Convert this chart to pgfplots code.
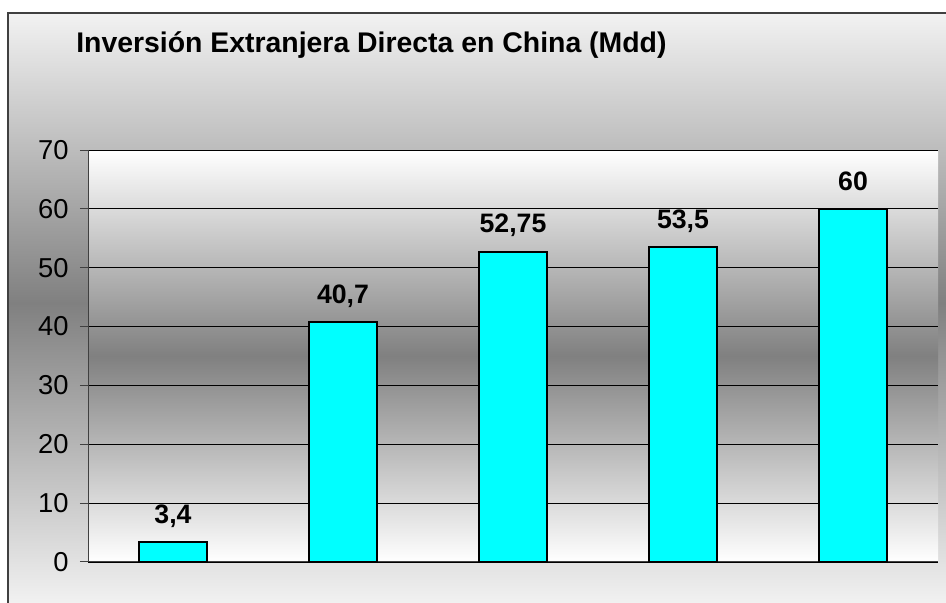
\documentclass[border=0pt]{standalone}
\usepackage{pgfplots}
\pgfplotsset{compat=1.18}
\usepackage{fontspec}
\setmainfont{Liberation Sans}
\definecolor{frame}{RGB}{64,64,64}
\definecolor{lite}{RGB}{242,242,242}
\definecolor{midgray}{RGB}{128,128,128}
\definecolor{barcyan}{RGB}{0,255,255}
\begin{document}
\begin{tikzpicture}[x=0.75pt,y=0.75pt]
\path[use as bounding box] (0,0) rectangle (946,603);
\begin{scope}
\clip (0,0) rectangle (946,603);
\shade[top color=lite, bottom color=midgray] (8,300) rectangle (960,590);
\shade[top color=midgray, bottom color=lite] (8,-2) rectangle (960,300);
\draw[frame, line width=0.9pt] (8,-10) -- (8,590) -- (960,590);
\end{scope}
\node[anchor=base west, font=\bfseries\fontsize{21.3}{25}\selectfont, inner sep=0pt] at (76,550) {Inversión Extranjera Directa en China (Mdd)};
\begin{axis}[
  at={(66pt,30.75pt)}, anchor=south west, scale only axis,
  width=637.5pt, height=309pt,
  xmin=-0.5, xmax=4.5, ymin=0, ymax=70,
  ytick={0,10,...,70}, xtick=\empty,
  axis x line*=bottom, axis y line*=left,
  axis line style={draw=frame, line width=0.75pt},
  ymajorgrids, major grid style={black, line width=0.6pt},
  tick align=outside, major tick length=6pt,
  ytick style={draw=frame, line width=0.75pt},
  axis background/.style={top color=white, bottom color=white, middle color=midgray},
  /pgf/number format/assume math mode=true,
  /pgf/number format/use comma,
  /pgf/number format/1000 sep={},
  yticklabel style={font=\fontsize{20.5}{24}\selectfont, xshift=-5pt},
  clip=false,
]
\addplot[ybar, bar width=0.4, fill=barcyan, draw=black, line width=1.5pt,
  nodes near coords,
  nodes near coords style={font=\bfseries\fontsize{20}{24}\selectfont, anchor=base, yshift=14pt, inner sep=0pt}]
  coordinates {(0,3.4) (1,40.7) (2,52.75) (3,53.5) (4,60)};
\end{axis}
\end{tikzpicture}
\end{document}
